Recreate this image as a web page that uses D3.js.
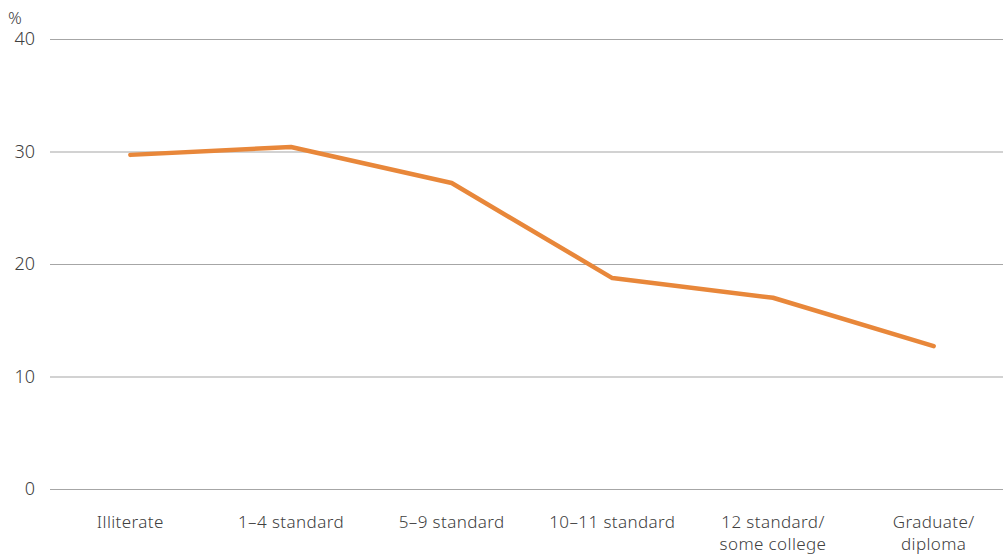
<!DOCTYPE html>
<html><head><meta charset="utf-8">
<script src="https://cdn.jsdelivr.net/npm/d3@7"></script>
<style>
html,body{margin:0;padding:0;background:#fff;overflow:hidden;}
text{font-family:"Noto Sans",sans-serif;fill:#404040;font-weight:300;}
</style></head>
<body>
<svg id="c" width="1003" height="556"></svg>
<script>
const categories = [["Illiterate"],["1–4 standard"],["5–9 standard"],["10–11 standard"],["12 standard/","some college"],["Graduate/","diploma"]];
const values = [29.7, 30.4, 27.2, 18.75, 17.0, 12.7];
const yTicks = [0, 10, 20, 30, 40];

const svg = d3.select("#c");
const x = d3.scaleBand().domain(d3.range(categories.length)).range([50, 1014]);
const y = d3.scaleLinear().domain([0, 40]).range([489, 39]);

const grid = svg.append("g");
grid.selectAll("line").data(yTicks).join("line")
  .attr("x1", 50).attr("x2", 1014)
  .attr("y1", d => y(d) + 0.5).attr("y2", d => y(d) + 0.5)
  .attr("stroke", "#a6a6a6").attr("stroke-width", 1.2);

svg.append("g").selectAll("text").data(yTicks).join("text")
  .attr("x", 35).attr("y", d => y(d)).attr("dy", "0.35em")
  .attr("text-anchor", "end").attr("font-size", 18).text(d => d);

svg.append("text").attr("x", 8).attr("y", 24).attr("font-size", 17).text("%");

const line = d3.line().x((d, i) => x(i) + x.bandwidth() / 2).y(d => y(d));
svg.append("path").datum(values).attr("d", line)
  .attr("fill", "none").attr("stroke", "#E8873A").attr("stroke-width", 4.5)
  .attr("stroke-linecap", "round").attr("stroke-linejoin", "round");

const lab = svg.append("g").selectAll("text").data(categories).join("text")
  .attr("x", (d, i) => x(i) + x.bandwidth() / 2).attr("y", 528)
  .attr("text-anchor", "middle").attr("font-size", 17).attr("letter-spacing", 0.4);
lab.each(function(d) {
  const t = d3.select(this);
  d.forEach((s, k) => t.append("tspan").attr("x", t.attr("x")).attr("dy", k === 0 ? 0 : 22).text(s));
});
</script>
</body></html>
